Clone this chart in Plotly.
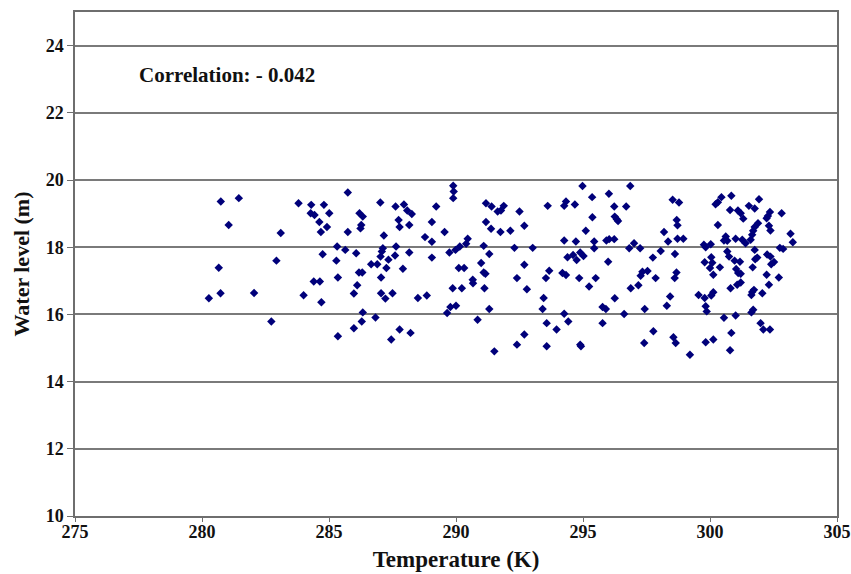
import plotly.graph_objects as go

# Temperature (K) of each observation
temperature = [
    280.74, 281.45, 281.05, 283.10, 282.93, 280.66, 280.27, 280.73, 282.05, 282.73,
    283.80, 285.74, 284.30, 284.80, 284.28, 284.43, 285.01, 284.62, 284.92, 284.68,
    285.74, 287.02, 287.62, 286.20, 286.33, 286.27, 286.24, 287.16, 285.32, 285.64,
    284.75, 286.07, 285.29, 287.12, 287.08, 287.03, 287.64, 287.60, 287.34, 286.66,
    286.90, 287.26, 286.18, 286.31, 285.35, 287.05, 284.40, 284.64, 286.11, 284.00,
    285.98, 287.05, 287.22, 287.50, 284.70, 286.33, 286.83, 286.29, 285.98, 285.35,
    287.45,
    287.95, 288.08, 288.26, 287.74, 287.78, 288.16, 289.22, 289.05, 289.55, 289.89,
    289.91, 289.89, 291.18, 291.40, 291.64, 291.18, 291.38, 291.75, 288.78, 289.05,
    290.46, 290.40, 290.15, 289.98, 289.74, 288.16, 291.09, 291.31, 289.05, 287.91,
    290.11, 290.32, 290.99, 291.09, 291.16, 290.66, 290.67, 289.87, 290.23, 291.12,
    288.50, 288.85, 289.78, 290.00, 289.65, 291.31, 290.85, 287.78, 288.21, 291.51,
    291.77, 291.88, 292.50, 292.69, 292.14, 293.61, 294.33, 294.26, 294.68, 294.98,
    295.36, 295.37, 295.11, 294.26, 294.72, 295.44, 295.44, 292.30, 293.02, 294.39,
    294.61, 294.75, 294.89, 295.02, 292.69, 293.67, 294.19, 294.33, 293.54, 292.40,
    294.85, 295.50, 295.24, 292.79, 293.45, 293.41, 294.26, 294.42, 293.57, 293.96,
    292.69, 292.40, 293.57, 294.89, 294.92,
    296.86, 296.02, 296.23, 296.70, 296.25, 296.33, 296.38, 298.53, 298.78, 298.69,
    298.72, 298.19, 298.35, 298.72, 298.95, 295.92, 296.03, 296.23, 297.01, 296.82,
    297.25, 298.06, 298.62, 297.75, 295.99, 297.34, 297.54, 297.27, 297.86, 298.68,
    298.61, 297.18, 296.88, 298.43, 298.30, 296.25, 295.77, 295.90, 297.43, 296.62,
    295.77, 297.77, 298.56, 298.65, 297.41, 299.21,
    300.31, 300.22, 300.45, 300.84, 300.79, 301.93, 301.53, 301.76, 301.10, 301.21,
    301.31, 302.36, 302.28, 302.82, 300.31, 302.23, 301.89, 302.32, 302.38, 301.76,
    301.70, 301.66, 301.60, 303.17, 303.26, 300.62, 300.55, 300.68, 301.01, 301.27,
    301.40, 299.76, 299.83, 300.03, 299.79, 300.05, 300.09, 300.00, 300.39, 300.13,
    300.68, 300.75, 301.76, 300.97, 301.18, 301.03, 301.11, 301.21, 301.78, 301.86,
    301.68, 302.25, 302.38, 302.52, 302.41, 302.75, 302.88, 302.23, 302.71, 302.32,
    300.81, 301.07, 301.21, 299.55, 299.79, 300.05, 300.13, 301.66, 301.73, 301.63,
    302.06, 299.83, 299.87, 301.63, 301.70, 300.55, 301.01, 301.99, 302.10, 302.36,
    300.84, 299.83, 300.13, 300.79,
]

# Water level (m) of each observation
water_level = [
    19.36, 19.46, 18.66, 18.42, 17.60, 17.39, 16.48, 16.63, 16.64, 15.79,
    19.31, 19.63, 19.26, 19.26, 19.01, 18.96, 19.01, 18.75, 18.60, 18.45,
    18.45, 19.33, 19.21, 19.01, 18.91, 18.66, 18.56, 18.35, 18.02, 17.92,
    17.79, 17.82, 17.60, 17.97, 17.87, 17.72, 18.02, 17.75, 17.63, 17.49,
    17.49, 17.38, 17.25, 17.25, 17.10, 17.10, 16.98, 16.98, 16.87, 16.57,
    16.62, 16.63, 16.47, 16.63, 16.36, 16.06, 15.91, 15.79, 15.59, 15.35,
    15.25,
    19.27, 19.09, 18.99, 18.81, 18.60, 18.66, 19.21, 18.75, 18.45, 19.83,
    19.66, 19.46, 19.31, 19.21, 19.06, 18.75, 18.55, 18.45, 18.30, 18.16,
    18.25, 18.10, 18.02, 17.92, 17.84, 17.84, 18.04, 17.80, 17.69, 17.36,
    17.38, 17.38, 17.53, 17.25, 17.21, 17.03, 16.93, 16.78, 16.78, 16.78,
    16.49, 16.56, 16.22, 16.26, 16.04, 16.16, 15.84, 15.55, 15.45, 14.90,
    19.09, 19.23, 19.06, 18.64, 18.49, 19.23, 19.36, 19.23, 19.27, 19.82,
    19.49, 18.89, 18.49, 18.20, 18.17, 18.17, 17.97, 17.98, 17.98, 17.70,
    17.77, 17.62, 17.84, 17.74, 17.48, 17.30, 17.23, 17.17, 17.08, 17.08,
    17.08, 17.08, 16.83, 16.75, 16.49, 16.16, 16.02, 15.79, 15.74, 15.55,
    15.40, 15.10, 15.05, 15.10, 15.05,
    19.82, 19.59, 19.21, 19.21, 18.91, 18.83, 18.78, 19.41, 19.33, 18.81,
    18.65, 18.45, 18.17, 18.25, 18.25, 18.20, 18.24, 18.24, 18.12, 17.97,
    17.97, 17.89, 17.80, 17.69, 17.57, 17.27, 17.29, 17.15, 17.08, 17.25,
    17.08, 16.87, 16.78, 16.53, 16.26, 16.48, 16.22, 16.16, 16.16, 16.01,
    15.74, 15.50, 15.32, 15.15, 15.15, 14.80,
    19.34, 19.28, 19.49, 19.53, 19.11, 19.43, 19.23, 19.15, 19.09, 19.01,
    18.85, 19.05, 18.93, 19.01, 18.66, 18.86, 18.71, 18.64, 18.50, 18.60,
    18.49, 18.37, 18.22, 18.40, 18.15, 18.32, 18.20, 18.19, 18.25, 18.22,
    18.12, 18.07, 18.00, 18.09, 17.55, 17.70, 17.54, 17.38, 17.40, 17.18,
    17.87, 17.72, 17.92, 17.60, 17.57, 17.35, 17.23, 17.21, 17.64, 17.69,
    17.40, 17.78, 17.72, 17.56, 17.49, 17.98, 17.95, 17.18, 17.10, 16.88,
    16.78, 16.88, 16.95, 16.58, 16.49, 16.56, 16.66, 16.67, 16.73, 16.58,
    16.63, 16.24, 16.09, 16.06, 16.14, 15.90, 15.97, 15.74, 15.55, 15.55,
    15.45, 15.17, 15.25, 14.93,
]

x_ticks = [275, 280, 285, 290, 295, 300, 305]
y_ticks = [10, 12, 14, 16, 18, 20, 22, 24]
correlation_text = "Correlation: - 0.042"

FONT = "Liberation Serif"
AXIS_GRAY = "#6e6e6e"

fig = go.Figure()
fig.add_trace(go.Scatter(
    x=temperature, y=water_level, mode="markers",
    marker=dict(symbol="diamond", size=6.5, color="#00007a",
                line=dict(width=0)),
    showlegend=False, hoverinfo="x+y",
))

fig.add_annotation(
    x=277.45, y=23.12, xref="x", yref="y", text=f"<b>{correlation_text}</b>",
    showarrow=False, xanchor="left", yanchor="middle",
    font=dict(family=FONT, size=21, color="#111111"),
)

fig.update_layout(
    width=851, height=574,
    margin=dict(l=75, r=14, t=12, b=58),
    paper_bgcolor="white", plot_bgcolor="white",
    font=dict(family=FONT, color="#111111"),
    xaxis=dict(
        automargin=False,
        range=[275, 305], tickvals=x_ticks, ticktext=[f"<b>{v}</b>" for v in x_ticks],
        showgrid=False, zeroline=False,
        showline=True, linecolor=AXIS_GRAY, linewidth=1.5, mirror=True,
        ticks="outside", ticklen=4, tickcolor=AXIS_GRAY, tickwidth=1.2,
        ticklabelstandoff=-5,
        tickfont=dict(family=FONT, size=18, color="#111111"),
        title=dict(text="<b>Temperature (K)</b>", standoff=10,
                   font=dict(family=FONT, size=23, color="#111111")),
    ),
    yaxis=dict(
        automargin=False,
        range=[10, 25], tickvals=y_ticks, ticktext=[f"<b>{v}</b>" for v in y_ticks],
        showgrid=True, gridcolor="#7a7a7a", gridwidth=1.5, zeroline=False,
        showline=True, linecolor=AXIS_GRAY, linewidth=1.5, mirror=True,
        ticks="outside", ticklen=6, tickcolor=AXIS_GRAY, tickwidth=1.2,
        tickfont=dict(family=FONT, size=18, color="#111111"),
        title=dict(text="<b>Water level (m)</b>", standoff=10,
                   font=dict(family=FONT, size=22, color="#111111")),
    ),
)

fig.write_html("out.html")
